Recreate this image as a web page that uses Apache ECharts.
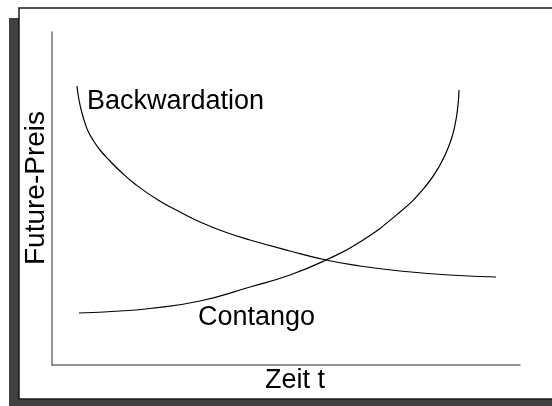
<!DOCTYPE html>
<html>
<head>
<meta charset="utf-8">
<script src="https://cdn.jsdelivr.net/npm/echarts@6/dist/echarts.min.js"></script>
<style>
  html, body { margin: 0; padding: 0; background: #fff; }
  #chart { width: 552px; height: 406px; }
</style>
</head>
<body>
<div id="chart"></div>
<script>
// curve points (x: time, y: price, in plot units)
var backwardationX = [25, 27, 30, 33, 36, 41, 48, 58, 68, 83, 106, 128, 148, 173, 198, 238, 274, 308, 348, 398, 444];
var backwardationY = [279, 265, 252, 242, 234, 225, 215, 204, 194, 181, 165, 153, 143, 133, 125, 114, 105, 99, 94, 90, 88];
var contangoX = [27, 68, 98, 148, 198, 238, 274, 308, 348, 373, 388, 398, 403, 406, 407];
var contangoY = [52, 54, 56.5, 64, 78, 90, 105, 123, 153, 178, 200, 222, 240, 260, 275];
var curveNames = ['Backwardation', 'Contango'];
var axisTitles = ['Zeit t', 'Future-Preis'];

function pairs(xs, ys) {
    var out = [];
    for (var i = 0; i < xs.length; i++) out.push([xs[i], ys[i]]);
    return out;
}

var font = '"Liberation Sans", Arial, sans-serif';
var chart = echarts.init(document.getElementById('chart'));

var lineSeries = function (name, data) {
    return {
        name: name,
        type: 'line',
        data: data,
        smooth: 0.5,
        showSymbol: false,
        lineStyle: { color: '#000', width: 1.2 },
        z: 5
    };
};

chart.setOption({
    animation: false,
    backgroundColor: '#fff',
    grid: { left: 52, right: 32, top: 32, bottom: 41 },
    xAxis: {
        type: 'value', min: 0, max: 468,
        axisLine: { show: true, lineStyle: { color: '#707070', width: 1.5 } },
        axisTick: { show: false }, axisLabel: { show: false }, splitLine: { show: false }
    },
    yAxis: {
        type: 'value', min: 0, max: 333,
        axisLine: { show: true, lineStyle: { color: '#707070', width: 1.5 } },
        axisTick: { show: false }, axisLabel: { show: false }, splitLine: { show: false }
    },
    series: [
        lineSeries(curveNames[0], pairs(backwardationX, backwardationY)),
        lineSeries(curveNames[1], pairs(contangoX, contangoY))
    ],
    graphic: [
        // shadow, then white frame
        { type: 'rect', z: -10, shape: { x: 9, y: 18, width: 560, height: 400 },
          style: { fill: '#404040' }, silent: true },
        { type: 'rect', z: -9, shape: { x: 19, y: 8, width: 560, height: 391 },
          style: { fill: '#fff', stroke: '#1a1a1a', lineWidth: 1.5 }, silent: true },
        { type: 'text', x: 87, y: 102, z: 10,
          style: { text: curveNames[0], font: '27px ' + font, fill: '#000', verticalAlign: 'middle' } },
        { type: 'text', x: 198, y: 318, z: 10,
          style: { text: curveNames[1], font: '27px ' + font, fill: '#000', verticalAlign: 'middle' } },
        { type: 'text', x: 265, y: 381, z: 10,
          style: { text: axisTitles[0], font: '27px ' + font, fill: '#000', verticalAlign: 'middle' } },
        { type: 'text', x: 36, y: 188, rotation: Math.PI / 2, z: 10,
          style: { text: axisTitles[1], font: '28px ' + font, fill: '#000',
                   align: 'center', verticalAlign: 'middle' } }
    ]
});
</script>
</body>
</html>
